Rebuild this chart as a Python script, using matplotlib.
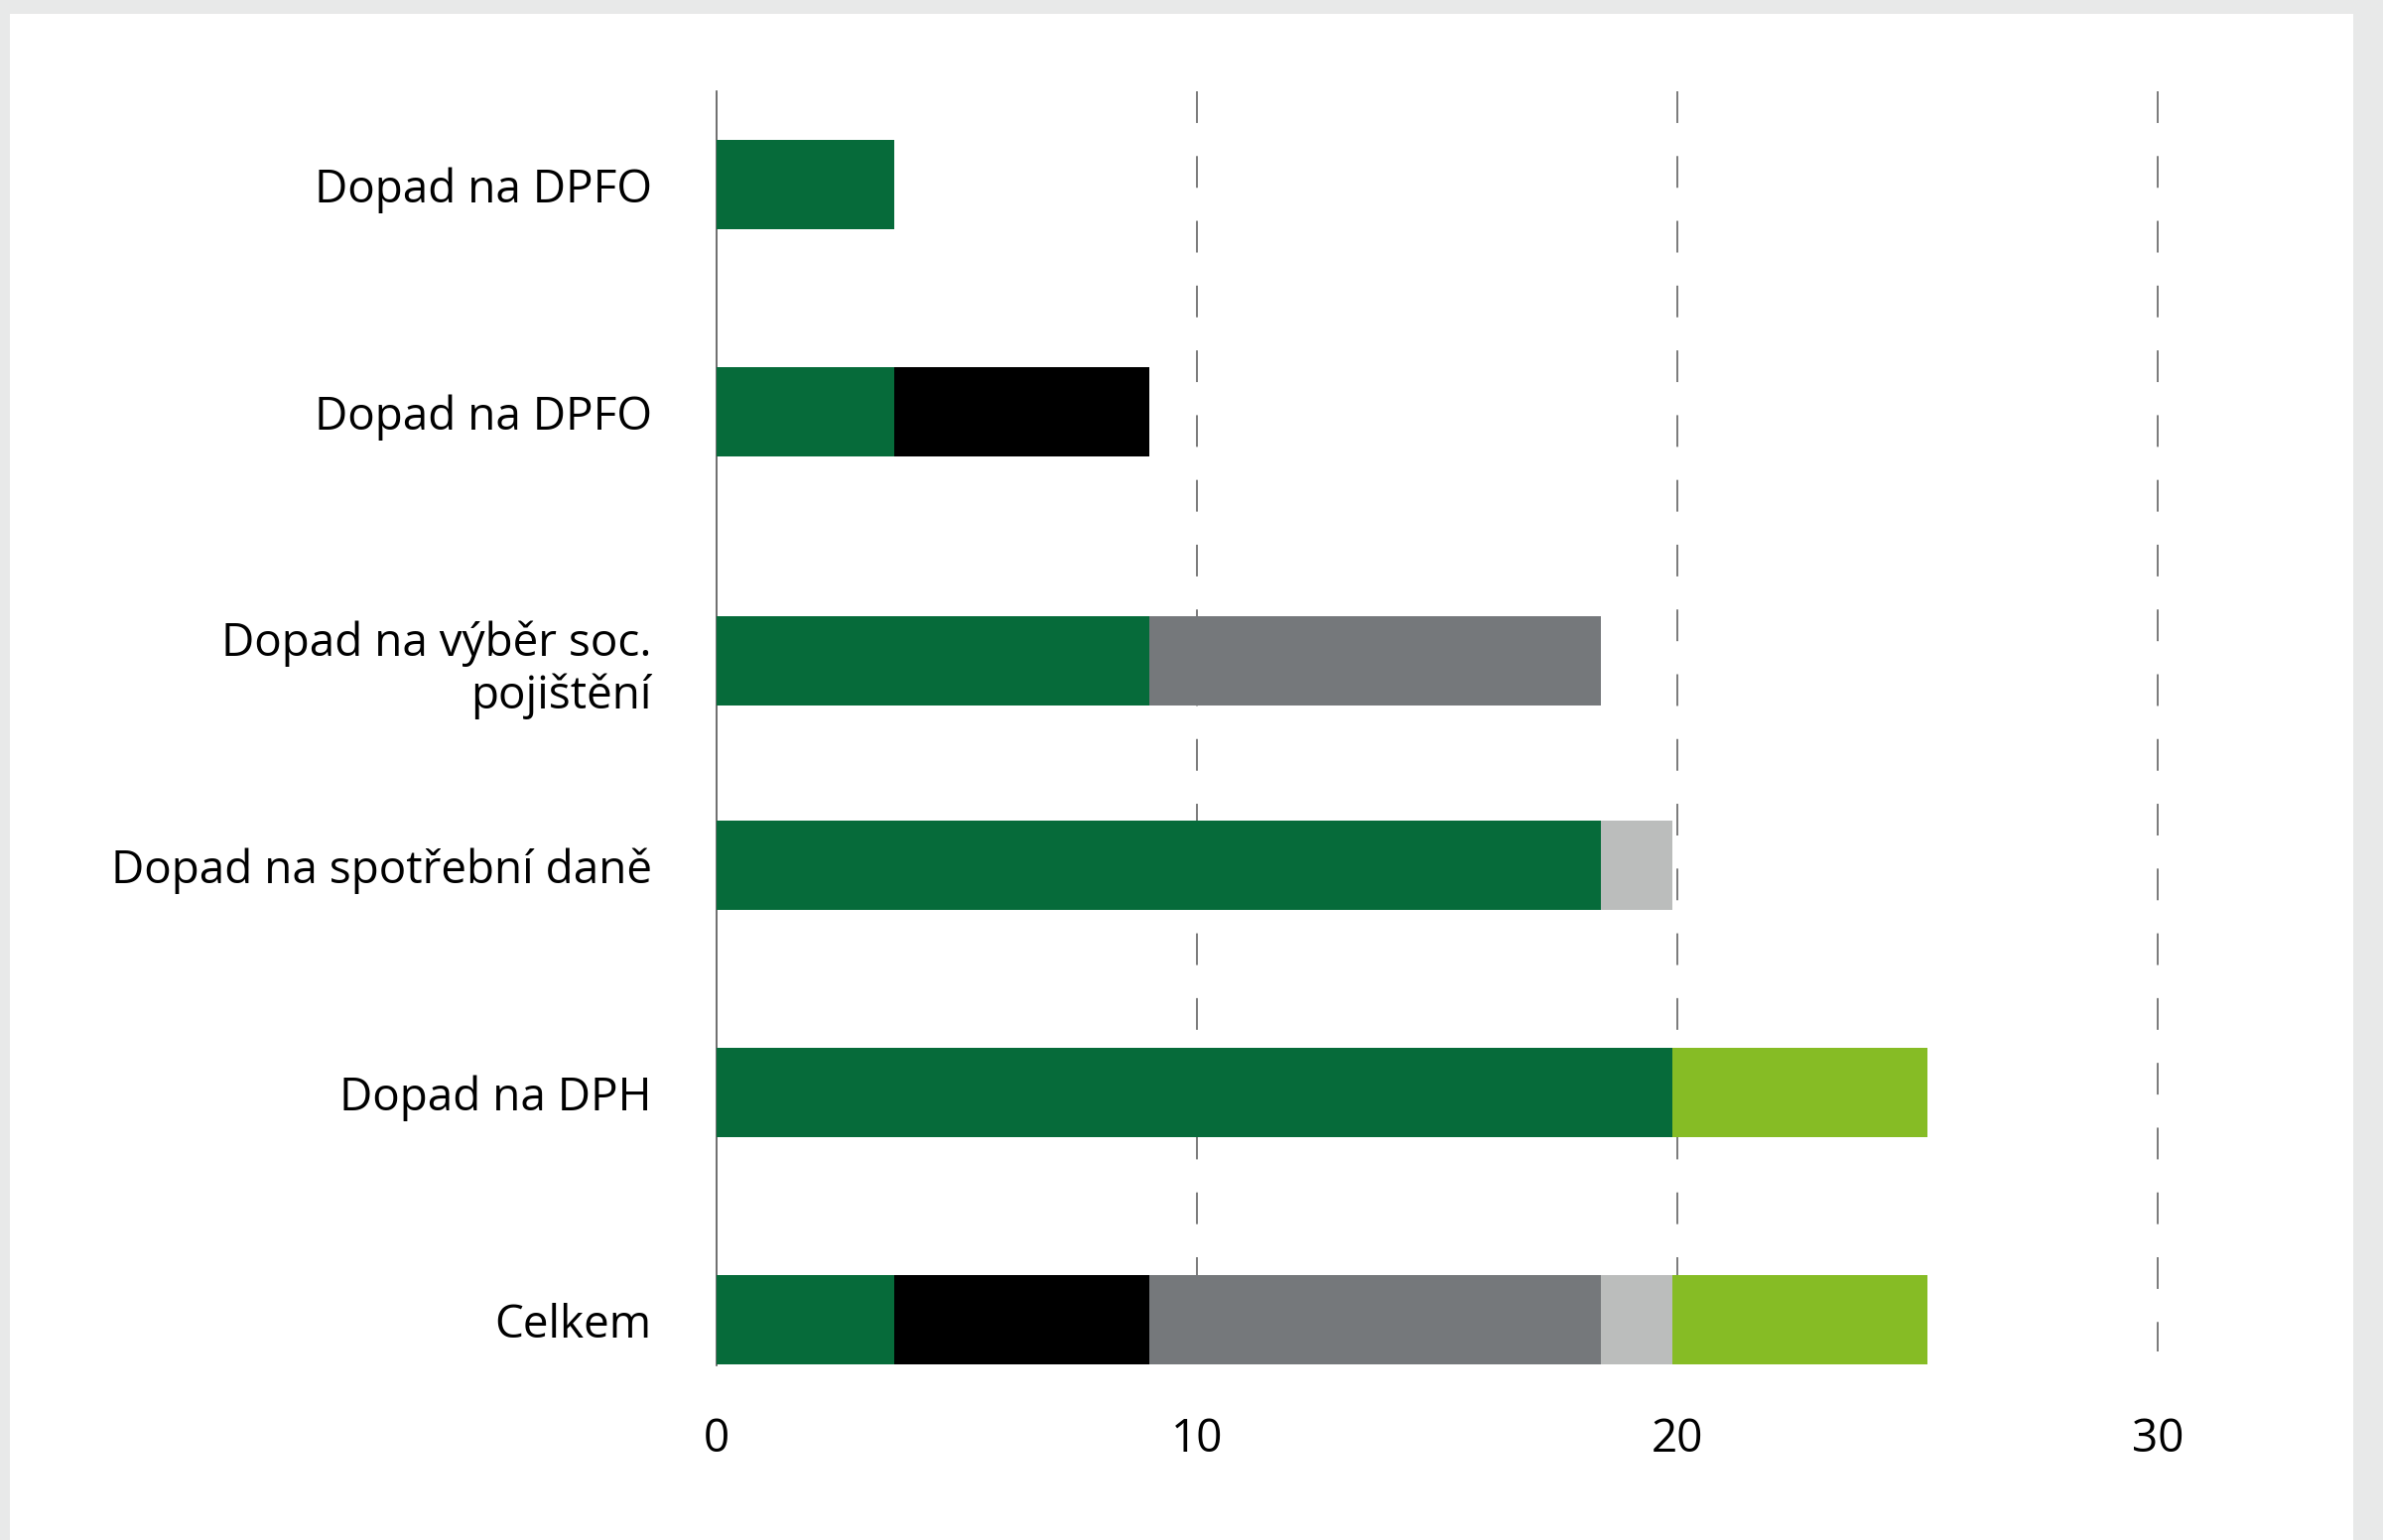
import matplotlib.pyplot as plt
from matplotlib.patches import Rectangle

plt.rcParams['font.family'] = ['Open Sans', 'DejaVu Sans']

categories = ["Dopad na DPFO", "Dopad na DPFO", "Dopad na výběr soc.\npojištění",
              "Dopad na spotřební daně", "Dopad na DPH", "Celkem"]
# waterfall: increment of each step, stacked on the running total
increments = [3.7, 5.3, 9.4, 1.5, 5.3]
step_colors = ["#066b3a", "#000000", "#75787b", "#bbbdbc", "#86bc25"]
base_color = "#066b3a"
xticks = [0, 10, 20, 30]

# row positions (row 3 sits a little lower because of its two-line label)
ypos = [0, 1, 2.1, 3, 4, 5]

fig = plt.figure(figsize=(24.01, 15.522), dpi=100)
fig.patch.set_facecolor("#e8e9e9")
fig.patches.append(Rectangle((10 / 2401, 0), (2371 - 10) / 2401, (1552 - 14) / 1552,
                             transform=fig.transFigure, facecolor="white",
                             edgecolor="none", zorder=-5))

ax = fig.add_axes([0.3007, 0.1134, 0.616, 0.8273])
ax.set_facecolor("none")

h = 0.393
total = 0
for i, inc in enumerate(increments):
    y = ypos[i]
    if total > 0:
        ax.barh(y, total, height=h, color=base_color, zorder=3)
    ax.barh(y, inc, left=total, height=h, color=step_colors[i], zorder=3)
    total += inc

# "Celkem" row: all components side by side
left = 0
for inc, c in zip(increments, step_colors):
    ax.barh(ypos[-1], inc, left=left, height=h, color=c, zorder=3)
    left += inc

ax.set_xlim(0, 30.55)
ax.set_ylim(5.2, -0.41)

lw = 1.3
for x in xticks[1:]:
    ax.plot([x, x], [-0.41, 5.14], color="#6f6f6f", lw=lw,
            linestyle=(0, (23 / lw, 24 / lw)), zorder=1, clip_on=False)

for s in ["top", "right", "bottom"]:
    ax.spines[s].set_visible(False)
ax.spines["left"].set_color("#555555")
ax.spines["left"].set_linewidth(1.2)

ax.set_yticks(ypos)
ax.set_yticklabels(categories, fontsize=33, color="black", linespacing=1.18)
ax.set_xticks(xticks)
ax.set_xticklabels([str(t) for t in xticks], fontsize=33, color="black")
ax.tick_params(axis="y", length=0, pad=47)
ax.tick_params(axis="x", length=0, pad=37)

fig.savefig("out.png", dpi=100, facecolor=fig.get_facecolor())
